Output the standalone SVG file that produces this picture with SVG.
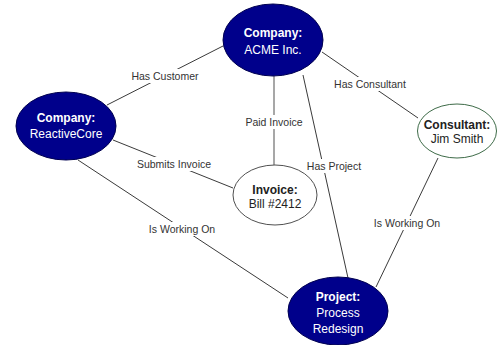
<svg xmlns="http://www.w3.org/2000/svg" width="497" height="345" viewBox="0 0 497 345">
  <style>
    .edge { stroke: #3a3a3a; stroke-width: 1; fill: none; }
    .edge.soft { stroke: #8a8a8a; stroke-width: 1.5; }
    .lbl-bg { fill: #ffffff; }
    .lbl { font-family: "Liberation Sans", Arial, sans-serif; font-size: 10.5px; fill: #333333; text-anchor: middle; }
    .dark { fill: #00008B; stroke: #000050; stroke-width: 1; }
    .light { fill: #ffffff; stroke: #505050; stroke-width: 1; }
    .green { fill: #ffffff; stroke: #3E6B48; stroke-width: 1; }
    .t { font-family: "Liberation Sans", Arial, sans-serif; font-size: 12px; text-anchor: middle; }
    .t.w { fill: #ffffff; }
    .t.k { fill: #222222; }
    .b { font-weight: bold; }
  </style>
  <rect width="497" height="345" fill="#ffffff"/>

  <g id="connectors">
    <line class="edge" x1="107" y1="105" x2="223" y2="46"/>
    <line class="edge" x1="322" y1="52" x2="418" y2="118"/>
    <line class="edge soft" x1="274" y1="76" x2="274" y2="165"/>
    <line class="edge" x1="303" y1="75" x2="348" y2="278"/>
    <line class="edge" x1="113" y1="140" x2="233" y2="188"/>
    <line class="edge" x1="78" y1="160" x2="288" y2="298"/>
    <line class="edge" x1="438" y1="158" x2="376" y2="287"/>

    <rect class="lbl-bg" x="132" y="69" width="66" height="14"/>
    <text class="lbl" x="165" y="80">Has Customer</text>
    <rect class="lbl-bg" x="335" y="77" width="71" height="14"/>
    <text class="lbl" x="370" y="88">Has Consultant</text>
    <rect class="lbl-bg" x="246" y="115" width="56" height="14"/>
    <text class="lbl" x="274" y="126">Paid Invoice</text>
    <rect class="lbl-bg" x="307" y="159" width="54" height="14"/>
    <text class="lbl" x="334" y="170">Has Project</text>
    <rect class="lbl-bg" x="137" y="157" width="74" height="14"/>
    <text class="lbl" x="174" y="168">Submits Invoice</text>
    <rect class="lbl-bg" x="148" y="222" width="67" height="14"/>
    <text class="lbl" x="182" y="233">Is Working On</text>
    <rect class="lbl-bg" x="373" y="216" width="67" height="14"/>
    <text class="lbl" x="407" y="227">Is Working On</text>
  </g>

  <g id="acme">
    <ellipse class="dark" cx="273" cy="40" rx="50" ry="36"/>
    <text class="t w b" x="273" y="37">Company:</text>
    <text class="t w" x="273" y="54">ACME Inc.</text>
  </g>

  <g id="reactivecore">
    <ellipse class="dark" cx="66" cy="126" rx="50" ry="34"/>
    <text class="t w b" x="66" y="122">Company:</text>
    <text class="t w" x="66" y="138">ReactiveCore</text>
  </g>

  <g id="consultant">
    <ellipse class="green" cx="457" cy="131" rx="39.5" ry="27"/>
    <text class="t k b" x="457" y="129">Consultant:</text>
    <text class="t k" x="457" y="143">Jim Smith</text>
  </g>

  <g id="invoice">
    <ellipse class="light" cx="275" cy="195" rx="42" ry="30"/>
    <text class="t k b" x="275" y="194">Invoice:</text>
    <text class="t k" x="275" y="208">Bill #2412</text>
  </g>

  <g id="project">
    <ellipse class="dark" cx="338" cy="311" rx="50" ry="34"/>
    <text class="t w b" x="338" y="301">Project:</text>
    <text class="t w" x="338" y="317">Process</text>
    <text class="t w" x="338" y="333">Redesign</text>
  </g>
</svg>
